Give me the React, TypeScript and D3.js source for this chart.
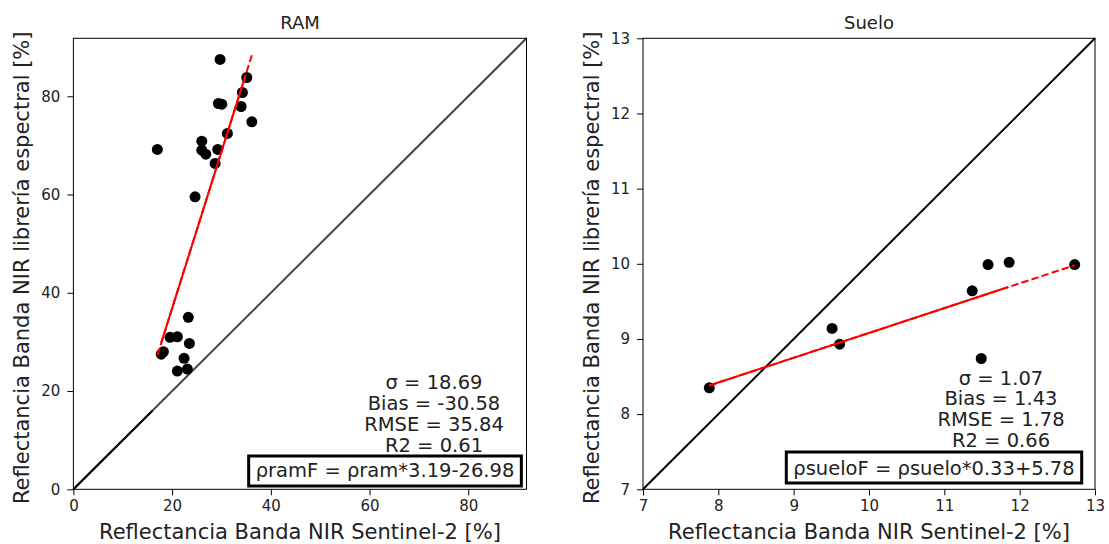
import { useEffect, useRef } from 'react';
import * as d3 from 'd3';

// RAM panel: Sentinel-2 vs spectral library (NIR, %)
const ramS2 = [29.72, 35.13, 34.24, 29.38, 30.07, 33.98, 36.15, 31.2, 17.01, 26.01, 26.01, 26.82, 29.25, 28.71, 24.65, 23.29, 19.58, 21.06, 23.5, 18.23, 17.8, 22.42, 21.06, 23.09];
const ramLib = [87.49, 83.82, 80.77, 78.53, 78.39, 77.92, 74.79, 72.43, 69.18, 70.87, 69.03, 68.22, 69.18, 66.33, 59.53, 35.0, 30.93, 31.05, 29.7, 28.0, 27.5, 26.65, 24.07, 24.48];
const ramTicks = [0, 20, 40, 60, 80];
const ramStats = ['σ = 18.69', 'Bias = -30.58', 'RMSE = 35.84', 'R2 = 0.61'];
const ramEq = 'ρramF = ρram*3.19-26.98';
const ramFit = [3.19, -26.98];

// Suelo panel
const sueloS2 = [7.88, 9.51, 9.61, 11.37, 11.58, 11.86, 12.73, 11.49];
const sueloLib = [8.35, 9.14, 8.93, 9.64, 9.99, 10.02, 9.99, 8.74];
const sueloTicks = [7, 8, 9, 10, 11, 12, 13];
const sueloStats = ['σ = 1.07', 'Bias = 1.43', 'RMSE = 1.78', 'R2 = 0.66'];
const sueloEq = 'ρsueloF = ρsuelo*0.33+5.78';
const sueloFit = [0.33, 5.78];

const xLabel = 'Reflectancia Banda NIR Sentinel-2 [%]';
const yLabel = 'Reflectancia Banda NIR librería espectral [%]';

const FONT = '"DejaVu Sans", sans-serif';

const App = () => {
  const svgRef = useRef(null);

  useEffect(() => {
    const width = 1109;
    const height = 544;
    const top = 38.3;
    const bottom = 489.3;

    d3.select(svgRef.current).selectAll('*').remove();
    const svg = d3.select(svgRef.current)
      .attr('width', width)
      .attr('height', height)
      .style('font-family', FONT);

    const panels = [
      {
        title: 'RAM', left: 73.4, right: 526.5, domain: [0, 91.8], ticks: ramTicks,
        xs: ramS2, ys: ramLib, fit: ramFit, stats: ramStats, eq: ramEq,
        diagColor: '#444', darkEnd: 16,
        solid: [17.8, 34.9],
        statX: 434, statY: [389, 410, 431, 452], eqX: 385, eqY: 477, box: [456, 486],
      },
      {
        title: 'Suelo', left: 643, right: 1095, domain: [7, 13], ticks: sueloTicks,
        xs: sueloS2, ys: sueloLib, fit: sueloFit, stats: sueloStats, eq: sueloEq,
        diagColor: '#000', darkEnd: 7,
        solid: [7.88, 11.85],
        statX: 1001, statY: [385, 405, 426, 447], eqX: 934, eqY: 475, box: [452, 483],
      },
    ];

    panels.forEach(p => {
      const x = d3.scaleLinear().domain(p.domain).range([p.left, p.right]);
      const y = d3.scaleLinear().domain(p.domain).range([bottom, top]);
      const g = svg.append('g');

      // 1:1 line
      g.append('line')
        .attr('x1', x(p.domain[0])).attr('y1', y(p.domain[0]))
        .attr('x2', x(p.domain[1])).attr('y2', y(p.domain[1]))
        .attr('stroke', p.diagColor).attr('stroke-width', 2);
      if (p.darkEnd > p.domain[0]) {
        g.append('line')
          .attr('x1', x(p.domain[0])).attr('y1', y(p.domain[0]))
          .attr('x2', x(p.darkEnd)).attr('y2', y(p.darkEnd))
          .attr('stroke', '#000').attr('stroke-width', 2);
      }

      // Points
      g.selectAll('circle')
        .data(p.xs.map((v, i) => [v, p.ys[i]]))
        .join('circle')
        .attr('cx', d => x(d[0]))
        .attr('cy', d => y(d[1]))
        .attr('r', 5.5)
        .attr('fill', '#000');

      // Fit line: dashed over the full range, solid where the segments overlap
      const f = v => p.fit[0] * v + p.fit[1];
      const xMin = d3.min(p.xs);
      const xMax = d3.max(p.xs);
      g.append('line')
        .attr('x1', x(xMin)).attr('y1', y(f(xMin)))
        .attr('x2', x(xMax)).attr('y2', y(f(xMax)))
        .attr('stroke', 'red').attr('stroke-width', 2)
        .attr('stroke-dasharray', '7.4,3.2');
      g.append('line')
        .attr('x1', x(p.solid[0])).attr('y1', y(f(p.solid[0])))
        .attr('x2', x(p.solid[1])).attr('y2', y(f(p.solid[1])))
        .attr('stroke', 'red').attr('stroke-width', 2);

      // Frame
      g.append('rect')
        .attr('x', p.left).attr('y', top)
        .attr('width', p.right - p.left).attr('height', bottom - top)
        .attr('fill', 'none').attr('stroke', '#000').attr('stroke-width', 1);

      // X axis
      const xAxis = g.append('g')
        .attr('transform', `translate(0,${bottom})`)
        .call(d3.axisBottom(x).tickValues(p.ticks).tickFormat(d3.format('d')).tickSize(6).tickPadding(5));
      xAxis.select('.domain').remove();
      xAxis.selectAll('text').style('font-size', '15px').style('fill', '#222').style('font-family', FONT);

      // Y axis
      const yAxis = g.append('g')
        .attr('transform', `translate(${p.left},0)`)
        .call(d3.axisLeft(y).tickValues(p.ticks).tickFormat(d3.format('d')).tickSize(6).tickPadding(7));
      yAxis.select('.domain').remove();
      yAxis.selectAll('text').style('font-size', '15px').style('fill', '#222').style('font-family', FONT);

      // Title
      g.append('text')
        .attr('x', (p.left + p.right) / 2).attr('y', 29)
        .attr('text-anchor', 'middle')
        .style('font-size', '18px').style('fill', '#222')
        .text(p.title);

      // Axis labels
      g.append('text')
        .attr('x', (p.left + p.right) / 2).attr('y', 539)
        .attr('text-anchor', 'middle')
        .style('font-size', '21px').style('fill', '#222')
        .text(xLabel);
      g.append('text')
        .attr('transform', `translate(${p.left - 44.5},${(top + bottom) / 2 + 4}) rotate(-90)`)
        .attr('text-anchor', 'middle')
        .style('font-size', '21px').style('fill', '#222')
        .text(yLabel);

      // Stats
      g.selectAll('text.stat')
        .data(p.stats)
        .join('text')
        .attr('class', 'stat')
        .attr('x', p.statX)
        .attr('y', (d, i) => p.statY[i])
        .attr('text-anchor', 'middle')
        .style('font-size', '19.5px').style('fill', '#222')
        .text(d => d);

      // Equation box
      const eq = g.append('text')
        .attr('x', p.eqX).attr('y', p.eqY)
        .attr('text-anchor', 'middle')
        .style('font-size', '19.5px').style('fill', '#222')
        .text(p.eq);
      const w = eq.node().getComputedTextLength();
      g.insert('rect', 'text.stat')
        .attr('x', p.eqX - w / 2 - 7).attr('y', p.box[0])
        .attr('width', w + 14).attr('height', p.box[1] - p.box[0])
        .attr('fill', '#fff').attr('stroke', '#000').attr('stroke-width', 3);
    });
  }, []);

  return (
    <div style={{ position: 'absolute', left: 0, top: 0, background: '#fff' }}>
      <svg ref={svgRef} />
    </div>
  );
};

export default App;
